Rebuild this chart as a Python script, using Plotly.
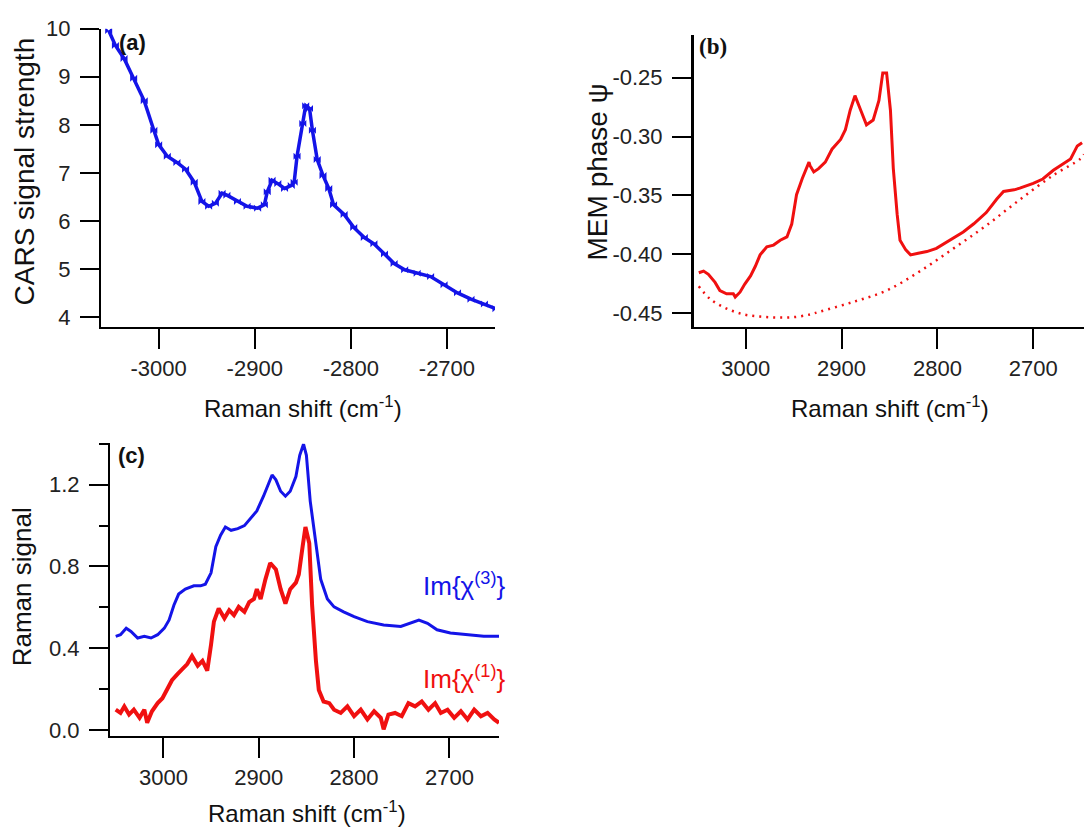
import plotly.graph_objects as go

# ---------------- Panel (a): CARS signal ----------------
a_x = [-3052, -3045, -3036, -3026, -3015, -3005, -3000, -2991, -2981, -2972,
       -2963, -2955, -2948, -2941, -2934, -2929, -2918, -2908, -2897, -2890,
       -2887, -2882, -2876, -2869, -2862, -2859, -2856, -2850, -2847, -2843,
       -2840, -2835, -2829, -2823, -2818, -2807, -2797, -2786, -2776, -2765,
       -2755, -2744, -2731, -2717, -2703, -2689, -2675, -2661, -2649]
a_y = [9.96, 9.65, 9.38, 8.97, 8.50, 7.89, 7.59, 7.35, 7.22, 7.08,
       6.81, 6.41, 6.31, 6.37, 6.58, 6.54, 6.41, 6.31, 6.27, 6.34,
       6.61, 6.85, 6.78, 6.68, 6.74, 6.81, 7.35, 8.03, 8.40, 8.34,
       7.89, 7.28, 6.95, 6.68, 6.34, 6.14, 5.87, 5.66, 5.53, 5.32,
       5.12, 4.99, 4.92, 4.85, 4.68, 4.51, 4.38, 4.28, 4.18]

# ---------------- Panel (b): MEM phase ----------------
b_x = [3049, 3044, 3039, 3032, 3027, 3020, 3013, 3011, 3006, 3001,
       2995, 2990, 2985, 2978, 2971, 2964, 2957, 2952, 2947, 2941,
       2934, 2933, 2929, 2924, 2917, 2910, 2901, 2896, 2891, 2886,
       2880, 2874, 2867, 2861, 2857, 2853, 2849, 2846, 2842, 2839,
       2833, 2828, 2820, 2811, 2801, 2790, 2773, 2762, 2749, 2738,
       2731, 2720, 2714, 2700, 2690, 2679, 2670, 2661, 2654, 2649]
b_y = [-0.4156, -0.4142, -0.4169, -0.4238, -0.4307, -0.4335, -0.4335, -0.4362, -0.4321, -0.4252,
       -0.4183, -0.4101, -0.4004, -0.3935, -0.3921, -0.3880, -0.3852, -0.3742, -0.3493, -0.3355,
       -0.3217, -0.3245, -0.3300, -0.3272, -0.3217, -0.3107, -0.3024, -0.2941, -0.2776, -0.2652,
       -0.2776, -0.2900, -0.2859, -0.2693, -0.2459, -0.2459, -0.2776, -0.3272, -0.3659, -0.3880,
       -0.3962, -0.4004, -0.3990, -0.3976, -0.3949, -0.3893, -0.3810, -0.3740, -0.3645, -0.3530,
       -0.3466, -0.3452, -0.3438, -0.3397, -0.3360, -0.3286, -0.3240, -0.3190, -0.3079, -0.3052]
b_base_x = [3049, 3037, 3020, 3002, 2985, 2968, 2950, 2933, 2923, 2888,
            2853, 2818, 2783, 2749, 2714, 2679, 2651, 2647]
b_base_y = [-0.4270, -0.4380, -0.4460, -0.4510, -0.4528, -0.4536, -0.4533, -0.4510, -0.4487, -0.4404,
            -0.4307, -0.4142, -0.3949, -0.3755, -0.3535, -0.3328, -0.3190, -0.3150]

# ---------------- Panel (c): Raman signal ----------------
c3_x = [3050, 3045, 3039, 3034, 3027, 3020, 3013, 3006, 2999, 2994,
        2989, 2984, 2977, 2968, 2961, 2956, 2950, 2945, 2940, 2935,
        2929, 2922, 2915, 2908, 2902, 2895, 2889, 2886, 2882, 2877,
        2872, 2867, 2861, 2857, 2853, 2850, 2846, 2840, 2835, 2828,
        2821, 2811, 2800, 2786, 2769, 2751, 2741, 2732, 2723, 2713,
        2699, 2681, 2664, 2648]
c3_y = [0.458, 0.466, 0.498, 0.482, 0.450, 0.458, 0.450, 0.466, 0.498, 0.538,
        0.610, 0.665, 0.689, 0.705, 0.705, 0.713, 0.769, 0.897, 0.953, 0.993,
        0.977, 0.985, 1.000, 1.040, 1.072, 1.144, 1.208, 1.248, 1.224, 1.168,
        1.144, 1.168, 1.240, 1.344, 1.399, 1.344, 1.120, 0.897, 0.737, 0.641,
        0.602, 0.578, 0.554, 0.530, 0.514, 0.506, 0.522, 0.538, 0.522, 0.490,
        0.474, 0.466, 0.458, 0.458]
c1_x = [3050, 3045, 3041, 3036, 3031, 3025, 3020, 3017, 3012, 3006,
        3001, 2996, 2991, 2985, 2980, 2975, 2970, 2964, 2959, 2954,
        2950, 2947, 2942, 2936, 2931, 2926, 2921, 2915, 2910, 2905,
        2902, 2898, 2893, 2888, 2882, 2877, 2872, 2867, 2861, 2858,
        2854, 2851, 2847, 2844, 2840, 2837, 2832, 2826, 2821, 2814,
        2807, 2800, 2793, 2786, 2779, 2772, 2769, 2764, 2757, 2750,
        2743, 2736, 2729, 2722, 2715, 2709, 2702, 2695, 2688, 2681,
        2674, 2667, 2660, 2653, 2648]
c1_y = [0.099, 0.083, 0.115, 0.075, 0.099, 0.059, 0.099, 0.035, 0.091, 0.131,
        0.155, 0.195, 0.243, 0.274, 0.298, 0.322, 0.362, 0.314, 0.338, 0.290,
        0.418, 0.530, 0.594, 0.546, 0.586, 0.562, 0.602, 0.578, 0.626, 0.641,
        0.689, 0.641, 0.737, 0.817, 0.785, 0.689, 0.618, 0.689, 0.721, 0.761,
        0.897, 0.993, 0.913, 0.610, 0.338, 0.195, 0.139, 0.131, 0.099, 0.083,
        0.115, 0.067, 0.099, 0.051, 0.091, 0.059, 0.003, 0.075, 0.083, 0.067,
        0.131, 0.115, 0.139, 0.099, 0.131, 0.083, 0.099, 0.059, 0.091, 0.051,
        0.099, 0.067, 0.083, 0.051, 0.035]

# ---------------- tick labels ----------------
a_xticks = [-3000, -2900, -2800, -2700]
a_xtext = ["-3000", "-2900", "-2800", "-2700"]
a_yticks = [4, 5, 6, 7, 8, 9, 10]
a_ytext = ["4", "5", "6", "7", "8", "9", "10"]
bc_xticks = [3000, 2900, 2800, 2700]
bc_xtext = ["3000", "2900", "2800", "2700"]
b_yticks = [-0.45, -0.40, -0.35, -0.30, -0.25]
b_ytext = ["-0.45", "-0.40", "-0.35", "-0.30", "-0.25"]

BLUE = "#1414e8"
RED = "#f01010"
FONT = "Liberation Sans, Arial, sans-serif"

fig = go.Figure()
fig.add_trace(go.Scatter(x=a_x, y=a_y, xaxis="x", yaxis="y", mode="lines+markers",
                         line=dict(color=BLUE, width=3.5),
                         marker=dict(symbol="bowtie", size=7, color=BLUE)))
fig.add_trace(go.Scatter(x=b_x, y=b_y, xaxis="x2", yaxis="y2", mode="lines",
                         line=dict(color=RED, width=3)))
fig.add_trace(go.Scatter(x=b_base_x, y=b_base_y, xaxis="x2", yaxis="y2", mode="lines",
                         line=dict(color=RED, width=2.5, dash="2px,5px", shape="spline")))
fig.add_trace(go.Scatter(x=c3_x, y=c3_y, xaxis="x3", yaxis="y3", mode="lines",
                         line=dict(color=BLUE, width=3)))
fig.add_trace(go.Scatter(x=c1_x, y=c1_y, xaxis="x3", yaxis="y3", mode="lines",
                         line=dict(color=RED, width=4)))

tickfont = dict(family=FONT, size=22, color="#222")
common_x = dict(showline=True, linecolor="black", linewidth=2, ticks="outside",
                ticklen=20, tickwidth=2, tickcolor="black", showgrid=False,
                zeroline=False, tickfont=tickfont, ticklabelstandoff=1)
common_y = dict(showline=True, linecolor="black", linewidth=2, ticks="outside",
                ticklen=19, tickwidth=2, tickcolor="black", showgrid=False,
                zeroline=False, tickfont=tickfont, ticklabelstandoff=5)

fig.update_layout(
    width=1084, height=834, margin=dict(l=0, r=0, t=0, b=0),
    paper_bgcolor="white", plot_bgcolor="white", showlegend=False,
    xaxis=dict(domain=[101/1084, 495/1084], range=[-3060, -2650],
               tickvals=a_xticks, ticktext=a_xtext, anchor="y", **common_x),
    yaxis=dict(domain=[1-322/834, 1-17/834], range=[3.8, 10],
               tickvals=a_yticks, ticktext=a_ytext, anchor="x", **common_y),
    xaxis2=dict(domain=[694/1084, 1.0], range=[3054, 2647],
                tickvals=bc_xticks, ticktext=bc_xtext, anchor="y2", **common_x),
    yaxis2=dict(domain=[1-322/834, 1-23/834], range=[-0.4617, -0.2133],
                tickvals=b_yticks, ticktext=b_ytext, anchor="x2", **common_y),
    xaxis3=dict(domain=[110/1084, 499/1084], range=[3056, 2648],
                tickvals=bc_xticks, ticktext=bc_xtext, anchor="y3", **common_x),
    yaxis3=dict(domain=[1-740/834, 1-441/834], range=[-0.03, 1.402],
                tickmode="linear", tick0=0, dtick=0.4, tickformat=".1f", anchor="x3",
                minor=dict(dtick=0.2, tick0=0, ticks="outside", ticklen=9,
                           tickwidth=2, tickcolor="black", showgrid=False),
                **common_y),
)
fig.layout.yaxis2.linewidth = 3


def ann(text, x, y, size=24, color="#111", angle=0, family=FONT, xanchor="center"):
    fig.add_annotation(text=text, x=x/1084, y=1-y/834, xref="paper", yref="paper",
                       showarrow=False, textangle=angle, xanchor=xanchor, yanchor="middle",
                       font=dict(family=family, size=size, color=color))


ann("CARS signal strength", 24, 163, size=28, angle=-90)
ann("MEM phase ψ", 597, 164, size=28, angle=-90)
ann("Raman signal", 22, 588, size=26, angle=-90)
ann("Raman shift (cm<sup>-1</sup>)", 303, 404)
ann("Raman shift (cm<sup>-1</sup>)", 890, 404)
ann("Raman shift (cm<sup>-1</sup>)", 307, 818)
ann("<b>(a)</b>", 132, 31, size=22)
ann("<b>(b)</b>", 713, 35, size=23, family="Liberation Serif, Times New Roman, serif")
ann("<b>(c)</b>", 131, 453, size=22)
ann("Im{χ<sup>(3)</sup>}", 507, 585, size=26, color=BLUE, xanchor="right")
ann("Im{χ<sup>(1)</sup>}", 507, 680, size=26, color=RED, xanchor="right")

fig.write_html("out.html")
